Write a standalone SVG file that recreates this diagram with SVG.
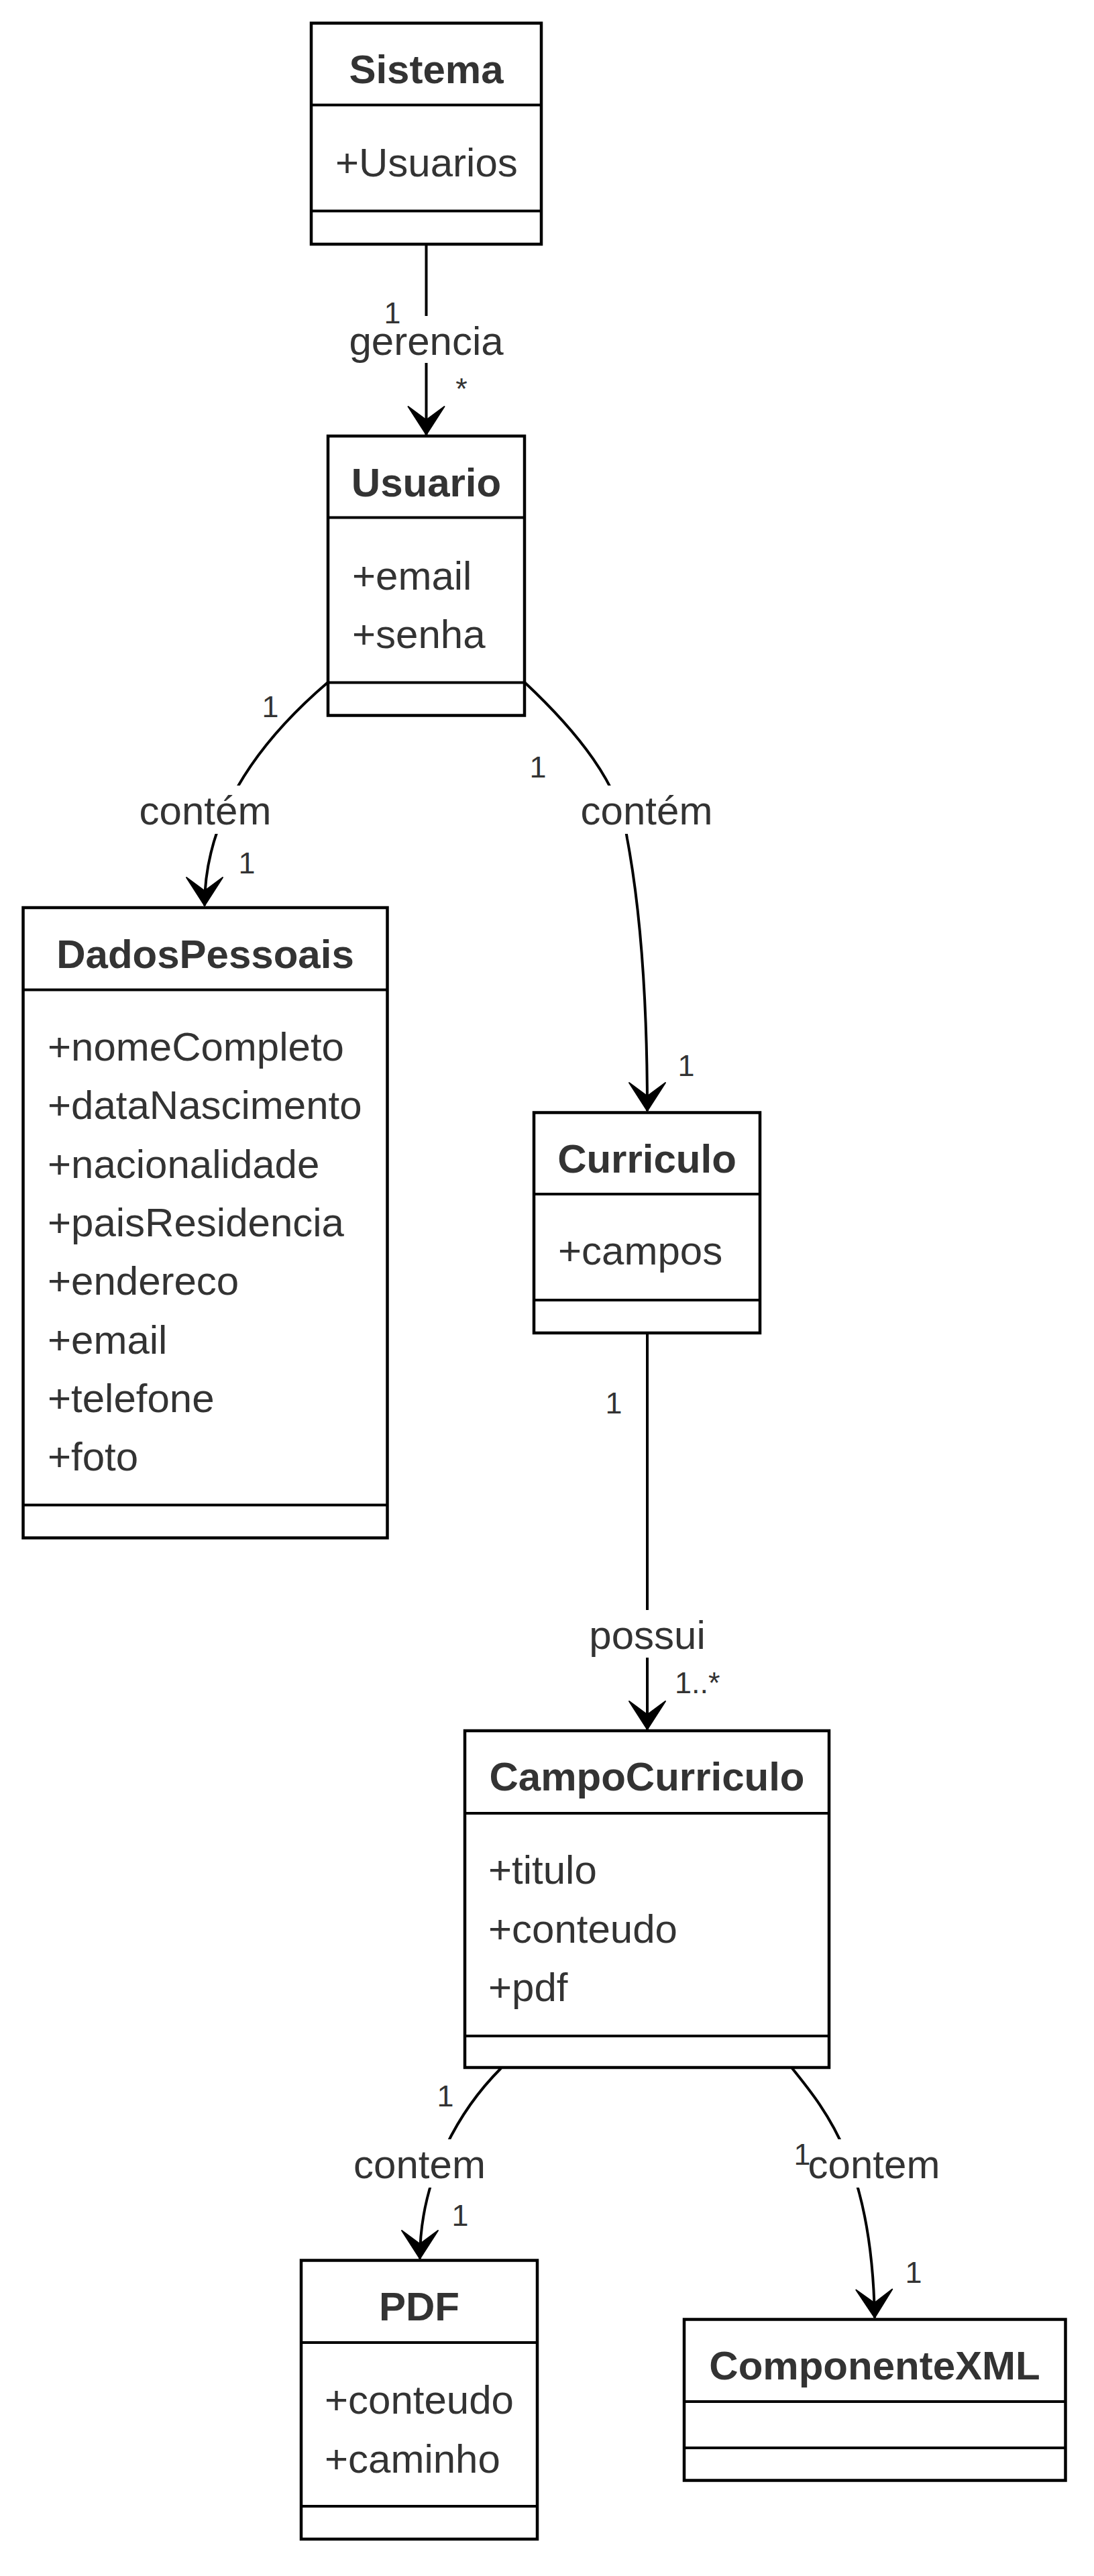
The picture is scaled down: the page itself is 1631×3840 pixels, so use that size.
<svg xmlns="http://www.w3.org/2000/svg" width="1631" height="3840" viewBox="0 0 1631 3840">
<style>
.box{fill:#ffffff;stroke:#000000;stroke-width:4.5}
.sep{stroke:#000000;stroke-width:4;fill:none}
.t{font-family:"Liberation Sans",Arial,Helvetica,sans-serif;fill:#333333}
.title{font-size:60px;font-weight:bold;text-anchor:middle}
.attr{font-size:60px}
.edge{fill:none;stroke:#000000;stroke-width:4}
.lbl{font-size:60px;text-anchor:middle}
.lblbg{fill:#ffffff}
.card{font-size:45px;text-anchor:middle}
</style>
<defs>
<marker id="arr" markerUnits="userSpaceOnUse" markerWidth="50" markerHeight="64" viewBox="-46 -32 50 64" refX="0" refY="0" orient="auto">
<path d="M0,0 L-42,-27 L-22,0 L-42,27 Z" fill="#000000" stroke="#000000" stroke-width="2" stroke-linejoin="round"/>
</marker>
</defs>
<rect x="0" y="0" width="1631" height="3840" fill="#ffffff"/>

<g id="connectors">
<path class="edge" d="M635.5,364 L635.5,648" marker-end="url(#arr)"/>
<path class="edge" d="M489,1017 C380,1110 305,1220 305,1350" marker-end="url(#arr)"/>
<path class="edge" d="M782,1017 C860,1090 925,1170 935,1250 C950,1330 965,1450 965,1656" marker-end="url(#arr)"/>
<path class="edge" d="M965,1987 L965,2578" marker-end="url(#arr)"/>
<path class="edge" d="M747,3083 C690,3140 626,3240 626,3367" marker-end="url(#arr)"/>
<path class="edge" d="M1180,3082 C1235,3150 1300,3230 1304,3455" marker-end="url(#arr)"/>

<rect class="lblbg" x="520" y="471" width="231" height="70"/>
<text class="t lbl" x="635.5" y="529">gerencia</text>
<rect class="lblbg" x="207.5" y="1171" width="197" height="72"/>
<text class="t lbl" x="306" y="1229">contém</text>
<rect class="lblbg" x="865.5" y="1171" width="197" height="72"/>
<text class="t lbl" x="964" y="1229">contém</text>
<rect class="lblbg" x="878.5" y="2400" width="173" height="71"/>
<text class="t lbl" x="965" y="2458">possui</text>
<rect class="lblbg" x="527" y="3189" width="197" height="72"/>
<text class="t lbl" x="625.5" y="3247">contem</text>
<rect class="lblbg" x="1204.5" y="3189" width="197" height="72"/>
<text class="t lbl" x="1303" y="3247">contem</text>

<text class="t card" x="585" y="482">1</text>
<text class="t card" x="688" y="595">*</text>
<text class="t card" x="403" y="1069">1</text>
<text class="t card" x="368" y="1302">1</text>
<text class="t card" x="802" y="1159">1</text>
<text class="t card" x="1023" y="1604">1</text>
<text class="t card" x="915" y="2107">1</text>
<text class="t" style="font-size:45px" x="1006" y="2524">1..*</text>
<text class="t card" x="664" y="3140">1</text>
<text class="t card" x="686" y="3318">1</text>
<text class="t card" x="1196" y="3227">1</text>
<text class="t card" x="1362" y="3403">1</text>
</g>

<g id="Sistema">
<rect class="box" x="464" y="34.5" width="343" height="329.5"/>
<line class="sep" x1="464" y1="156.5" x2="807" y2="156.5"/>
<line class="sep" x1="464" y1="314.5" x2="807" y2="314.5"/>
<text class="t title" x="635.5" y="124">Sistema</text>
<text class="t attr" x="500" y="263">+Usuarios</text>
</g>

<g id="Usuario">
<rect class="box" x="489" y="650" width="293" height="416.5"/>
<line class="sep" x1="489" y1="771.5" x2="782" y2="771.5"/>
<line class="sep" x1="489" y1="1017.5" x2="782" y2="1017.5"/>
<text class="t title" x="635.5" y="739.5">Usuario</text>
<text class="t attr" x="525" y="879">+email</text>
<text class="t attr" x="525" y="966">+senha</text>
</g>

<g id="DadosPessoais">
<rect class="box" x="34.5" y="1353" width="543" height="939.5"/>
<line class="sep" x1="34.5" y1="1475.5" x2="577.5" y2="1475.5"/>
<line class="sep" x1="34.5" y1="2243.5" x2="577.5" y2="2243.5"/>
<text class="t title" x="306" y="1443">DadosPessoais</text>
<text class="t attr" x="71" y="1581">+nomeCompleto</text>
<text class="t attr" x="71" y="1668.3">+dataNascimento</text>
<text class="t attr" x="71" y="1755.6">+nacionalidade</text>
<text class="t attr" x="71" y="1842.9">+paisResidencia</text>
<text class="t attr" x="71" y="1930.2">+endereco</text>
<text class="t attr" x="71" y="2017.5">+email</text>
<text class="t attr" x="71" y="2104.8">+telefone</text>
<text class="t attr" x="71" y="2192">+foto</text>
</g>

<g id="Curriculo">
<rect class="box" x="796" y="1658.5" width="337" height="328.5"/>
<line class="sep" x1="796" y1="1780" x2="1133" y2="1780"/>
<line class="sep" x1="796" y1="1938" x2="1133" y2="1938"/>
<text class="t title" x="964.5" y="1748">Curriculo</text>
<text class="t attr" x="832" y="1885">+campos</text>
</g>

<g id="CampoCurriculo">
<rect class="box" x="693" y="2580" width="543" height="502"/>
<line class="sep" x1="693" y1="2703" x2="1236" y2="2703"/>
<line class="sep" x1="693" y1="3035" x2="1236" y2="3035"/>
<text class="t title" x="964.5" y="2669">CampoCurriculo</text>
<text class="t attr" x="728" y="2808">+titulo</text>
<text class="t attr" x="728" y="2895.5">+conteudo</text>
<text class="t attr" x="728" y="2983">+pdf</text>
</g>

<g id="PDF">
<rect class="box" x="449" y="3369.5" width="352" height="415.5"/>
<line class="sep" x1="449" y1="3492" x2="801" y2="3492"/>
<line class="sep" x1="449" y1="3736" x2="801" y2="3736"/>
<text class="t title" x="625" y="3459">PDF</text>
<text class="t attr" x="484" y="3598">+conteudo</text>
<text class="t attr" x="484" y="3686">+caminho</text>
</g>

<g id="ComponenteXML">
<rect class="box" x="1020" y="3457.5" width="568.5" height="240"/>
<line class="sep" x1="1020" y1="3580" x2="1588.5" y2="3580"/>
<line class="sep" x1="1020" y1="3649" x2="1588.5" y2="3649"/>
<text class="t title" x="1304" y="3546.5">ComponenteXML</text>
</g>
</svg>
